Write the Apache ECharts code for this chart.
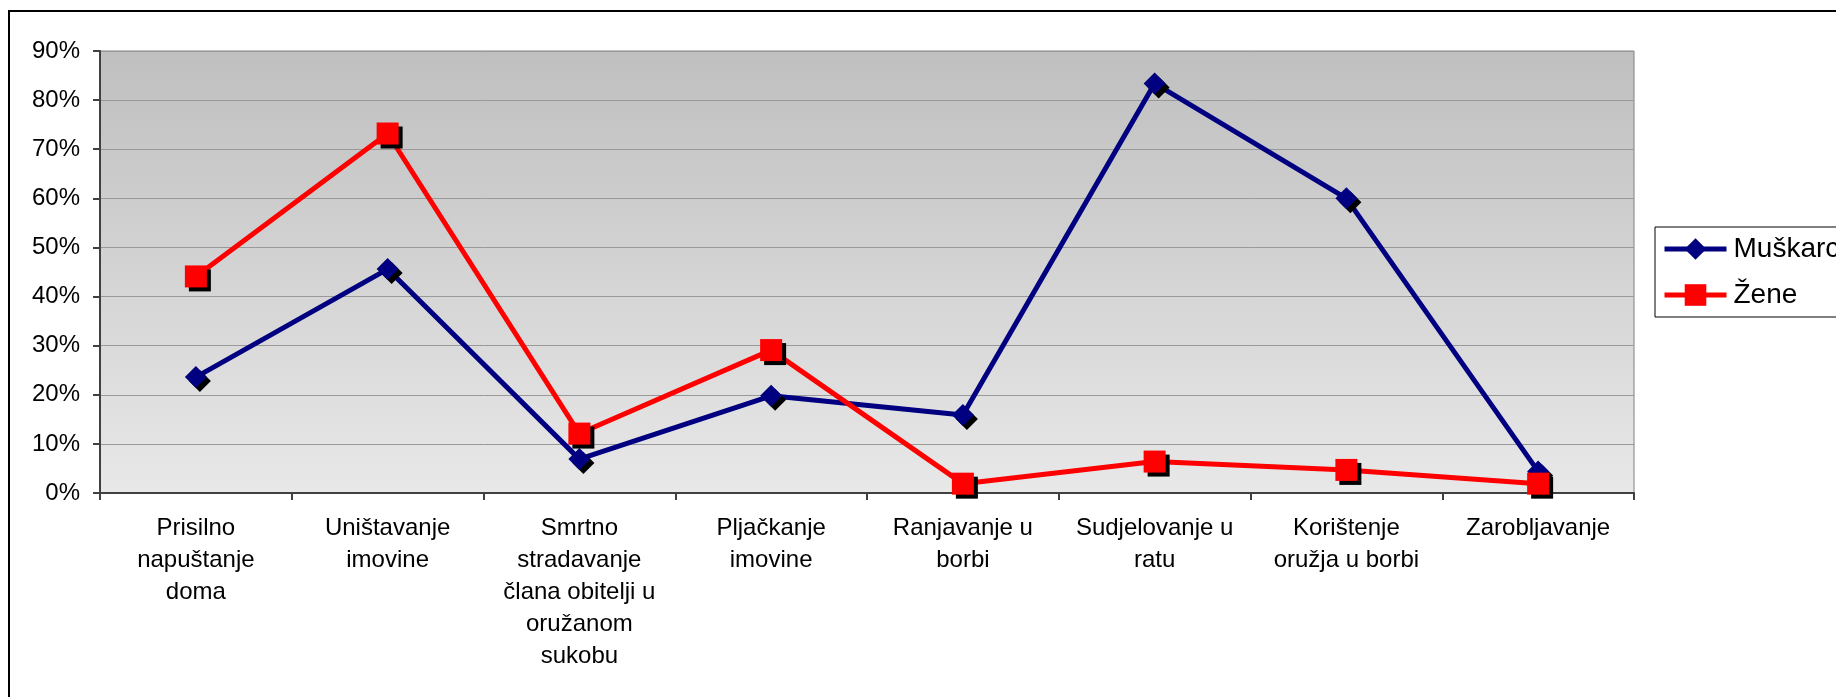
<!DOCTYPE html>
<html>
<head>
<meta charset="utf-8">
<style>html,body{margin:0;padding:0;background:#fff}#c{width:1836px;height:697px}</style>
<script src="https://cdn.jsdelivr.net/npm/echarts@6/dist/echarts.min.js"></script>
</head>
<body>
<div id="c"></div>
<script>
const categories = [
  "Prisilno\nnapuštanje\ndoma",
  "Uništavanje\nimovine",
  "Smrtno\nstradavanje\nčlana obitelji u\noružanom\nsukobu",
  "Pljačkanje\nimovine",
  "Ranjavanje u\nborbi",
  "Sudjelovanje u\nratu",
  "Korištenje\noružja u borbi",
  "Zarobljavanje"
];
const muskarci = [23.6, 45.6, 6.9, 19.8, 15.9, 83.4, 60.0, 4.4];
const zene = [44.1, 73.2, 12.1, 29.1, 1.9, 6.4, 4.7, 1.9];
const seriesNames = ["Muškarci", "Žene"];

const chart = echarts.init(document.getElementById('c'), null, {renderer: 'canvas'});
const font = 'Liberation Sans, Arial, sans-serif';
chart.setOption({
  animation: false,
  backgroundColor: '#ffffff',
  textStyle: {fontFamily: font, color: '#000'},
  graphic: [{
    type: 'rect', silent: true, z: -10,
    shape: {x: 9, y: 11, width: 2000, height: 2000},
    style: {fill: 'none', stroke: '#000', lineWidth: 2}
  }],
  grid: {
    left: 100, top: 51, right: 202, bottom: 204,
    show: true,
    borderColor: '#808080', borderWidth: 1,
    backgroundColor: {
      type: 'linear', x: 0, y: 0, x2: 0, y2: 1,
      colorStops: [{offset: 0, color: '#bfbfbf'}, {offset: 1, color: '#e8e8e8'}]
    }
  },
  legend: {
    orient: 'vertical',
    left: 1655, top: 227,
    padding: [8, 40, 8, 7],
    itemWidth: 62, itemHeight: 27, itemGap: 18,
    borderColor: '#000', borderWidth: 1,
    textStyle: {fontFamily: font, fontSize: 28, color: '#000', padding: [0, 0, 0, 2]},
    lineStyle: {width: 5},
    itemStyle: {shadowColor: 'rgba(0,0,0,0)', shadowOffsetX: 0, shadowOffsetY: 0},
    data: seriesNames
  },
  xAxis: {
    type: 'category',
    data: categories,
    boundaryGap: true,
    axisLine: {lineStyle: {color: '#404040', width: 2}},
    axisTick: {show: true, length: 7, lineStyle: {color: '#404040', width: 2}},
    axisLabel: {
      interval: 0, margin: 19, fontSize: 24, lineHeight: 32,
      fontFamily: font, color: '#000', align: 'center', verticalAlign: 'top'
    },
    splitLine: {show: false}
  },
  yAxis: {
    type: 'value',
    min: 0, max: 90, interval: 10,
    axisLine: {show: true, lineStyle: {color: '#404040', width: 2}},
    axisTick: {show: true, length: 7, lineStyle: {color: '#404040', width: 2}},
    axisLabel: {fontSize: 24, margin: 20, fontFamily: font, color: '#000', formatter: '{value}%'},
    splitLine: {show: true, lineStyle: {color: '#999999', width: 1}}
  },
  series: [
    {
      name: seriesNames[0], type: 'line', data: muskarci,
      symbol: 'diamond', symbolSize: 22,
      lineStyle: {color: '#000080', width: 5},
      itemStyle: {color: '#000080', shadowColor: '#000', shadowOffsetX: 4, shadowOffsetY: 4, shadowBlur: 0}
    },
    {
      name: seriesNames[1], type: 'line', data: zene,
      symbol: 'rect', symbolSize: 22,
      lineStyle: {color: '#ff0000', width: 5},
      itemStyle: {color: '#ff0000', shadowColor: '#000', shadowOffsetX: 4, shadowOffsetY: 4, shadowBlur: 0}
    }
  ]
});
</script>
</body>
</html>
